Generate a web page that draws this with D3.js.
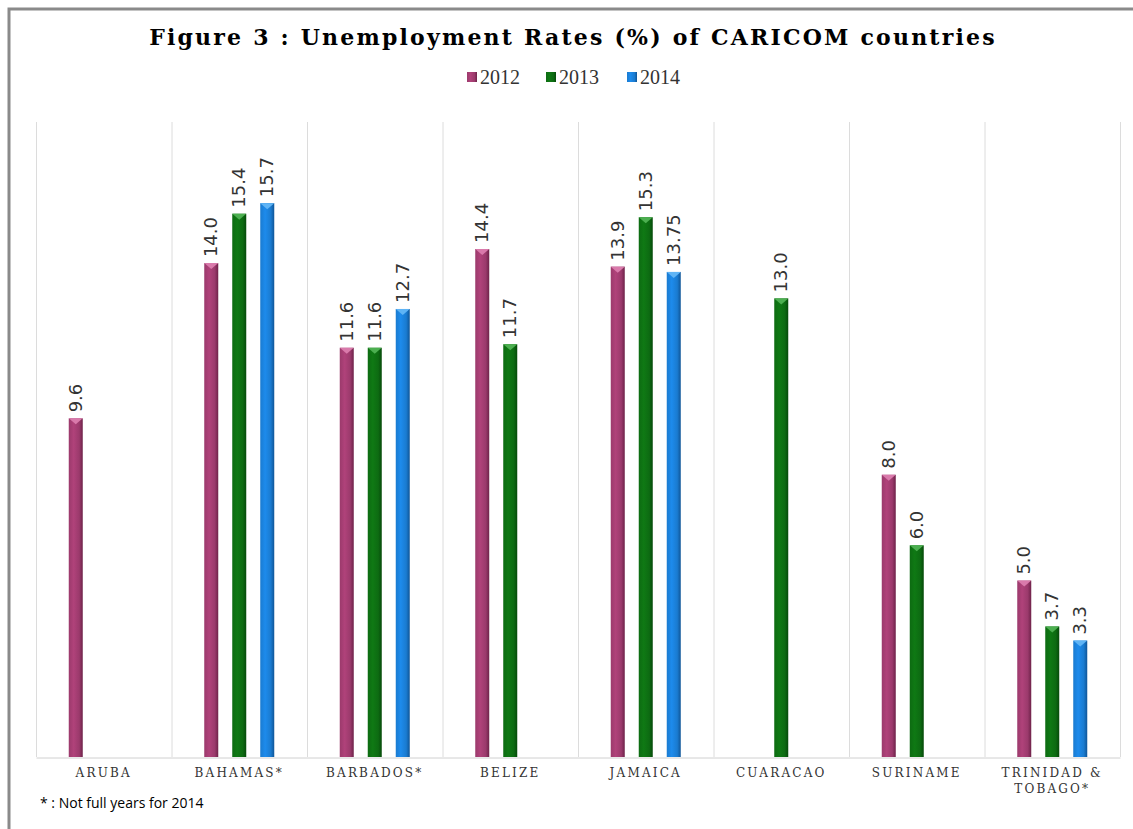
<!DOCTYPE html>
<html>
<head>
<meta charset="utf-8">
<script src="https://cdn.jsdelivr.net/npm/d3@7"></script>
<style>
  body { margin: 0; background: #fff; }
  svg { display: block; }
</style>
</head>
<body>
<svg id="chart" width="1133" height="829"></svg>
<script>
// data
var countries = ["ARUBA", "BAHAMAS*", "BARBADOS*", "BELIZE", "JAMAICA", "CUARACAO", "SURINAME", "TRINIDAD & TOBAGO*"]
var years = ["2012", "2013", "2014"]
var rates2012 = [9.6, 14.0, 11.6, 14.4, 13.9, null, 8.0, 5.0]
var rates2013 = [null, 15.4, 11.6, 11.7, 15.3, 13.0, 6.0, 3.7]
var rates2014 = [null, 15.7, 12.7, null, 13.75, null, null, 3.3]
var colors = ["#9b3a6c", "#0d6b12", "#1a7bd0"]
var light = ["#d97aab", "#4caf50", "#5fb4f5"]
var dark = ["#6e2249", "#064a0a", "#0f5597"]

var series = [rates2012, rates2013, rates2014]

var svg = d3.select("#chart")
var margin = {left: 36, right: 1120, top: 122, bottom: 757}

// outer frame
svg.append("path")
    .attr("d", "M9,829 L9,9 L1133,9")
    .attr("fill", "none")
    .attr("stroke", "#8a8a8a")
    .attr("stroke-width", 3)

var x = d3.scaleBand().domain(countries).range([margin.left, margin.right]).padding(0)
var y = d3.scaleLinear().domain([0, 18]).range([margin.bottom, margin.top])

// gradients
var defs = svg.append("defs")
years.forEach(function(yr, i){
    var g = defs.append("linearGradient").attr("id", "grad" + i)
        .attr("x1", 0).attr("x2", 1).attr("y1", 0).attr("y2", 0)
    g.append("stop").attr("offset", "0%").attr("stop-color", colors[i])
    g.append("stop").attr("offset", "35%").attr("stop-color", d3.color(colors[i]).brighter(0.35))
    g.append("stop").attr("offset", "75%").attr("stop-color", colors[i])
    g.append("stop").attr("offset", "100%").attr("stop-color", dark[i])
})

// title
svg.append("text")
    .attr("x", 573).attr("y", 45)
    .attr("text-anchor", "middle")
    .style("font-family", "'DejaVu Serif', serif")
    .style("font-weight", "bold")
    .style("font-size", "22px")
    .style("letter-spacing", "2.2px")
    .attr("fill", "#000")
    .text("Figure 3 : Unemployment Rates (%) of CARICOM countries")

// legend
var legendX = [467, 546, 627]
var legend = svg.append("g")
years.forEach(function(yr, i){
    legend.append("rect")
        .attr("x", legendX[i]).attr("y", 72)
        .attr("width", 10).attr("height", 10)
        .attr("fill", "url(#grad" + i + ")")
    legend.append("text")
        .attr("x", legendX[i] + 13).attr("y", 84)
        .style("font-family", "'Liberation Serif', serif")
        .style("font-size", "20px")
        .attr("fill", "#333")
        .text(yr)
})

// gridlines (category separators)
var seps = countries.map(function(c){ return x(c) }).concat([margin.right])
svg.append("g").selectAll("line")
    .data(seps)
    .enter().append("line")
    .attr("x1", function(d){ return d + 0.5 })
    .attr("x2", function(d){ return d + 0.5 })
    .attr("y1", margin.top)
    .attr("y2", margin.bottom)
    .attr("stroke", "#dcdcdc")
    .attr("stroke-width", 1)

// x axis
var xAxis = d3.axisBottom(x).tickSize(0).tickFormat("")
svg.append("g")
    .attr("class", "xAxis")
    .attr("transform", "translate(0," + (margin.bottom + 0.5) + ")")
    .call(xAxis)
    .select(".domain").attr("stroke", "#d0d0d0")

var labelG = svg.append("g")
countries.forEach(function(c){
    var lines = c === "TRINIDAD & TOBAGO*" ? ["TRINIDAD &", "TOBAGO*"] : [c]
    lines.forEach(function(l, k){
        labelG.append("text")
            .attr("x", x(c) + x.bandwidth() / 2)
            .attr("y", 777 + k * 16)
            .attr("text-anchor", "middle")
            .style("font-family", "'DejaVu Serif', serif")
            .style("font-size", "12px")
            .style("letter-spacing", "2.2px")
            .attr("fill", "#333")
            .text(l)
    })
})

// bars
var fmt = function(v){ return Math.round(v * 10) === v * 10 ? v.toFixed(1) : String(v) }
var barW = 14
series.forEach(function(vals, i){
    var data = countries.map(function(c, j){ return {c: c, v: vals[j]} }).filter(function(d){ return d.v != null })
    var g = svg.append("g")
    var cx = function(d){ return x(d.c) + x.bandwidth() / 2 - 28 + i * 28 }
    g.selectAll("rect")
        .data(data)
        .enter().append("rect")
        .attr("x", function(d){ return cx(d) - barW / 2 })
        .attr("y", function(d){ return y(d.v) })
        .attr("width", barW)
        .attr("height", function(d){ return y(0) - y(d.v) })
        .attr("fill", "url(#grad" + i + ")")
    g.selectAll("path.cap")
        .data(data)
        .enter().append("path")
        .attr("class", "cap")
        .attr("d", function(d){
            var x0 = cx(d) - barW / 2, y0 = y(d.v)
            return "M" + x0 + "," + y0 + "L" + (x0 + barW) + "," + y0 + "L" + (x0 + barW / 2) + "," + (y0 + 6) + "Z"
        })
        .attr("fill", light[i])
    g.selectAll("text")
        .data(data)
        .enter().append("text")
        .attr("transform", function(d){ return "translate(" + (cx(d) + 6) + "," + (y(d.v) - 6) + ") rotate(-90)" })
        .style("font-family", "'DejaVu Sans', sans-serif")
        .style("font-size", "18px")
        .attr("fill", "#333")
        .text(function(d){ return fmt(d.v) })
})

// footnote
svg.append("text")
    .attr("x", 40).attr("y", 808)
    .style("font-family", "'Open Sans', 'Liberation Sans', sans-serif")
    .style("font-size", "14px")
    .attr("fill", "#000")
    .text("* : Not full years for 2014")
</script>
</body>
</html>
